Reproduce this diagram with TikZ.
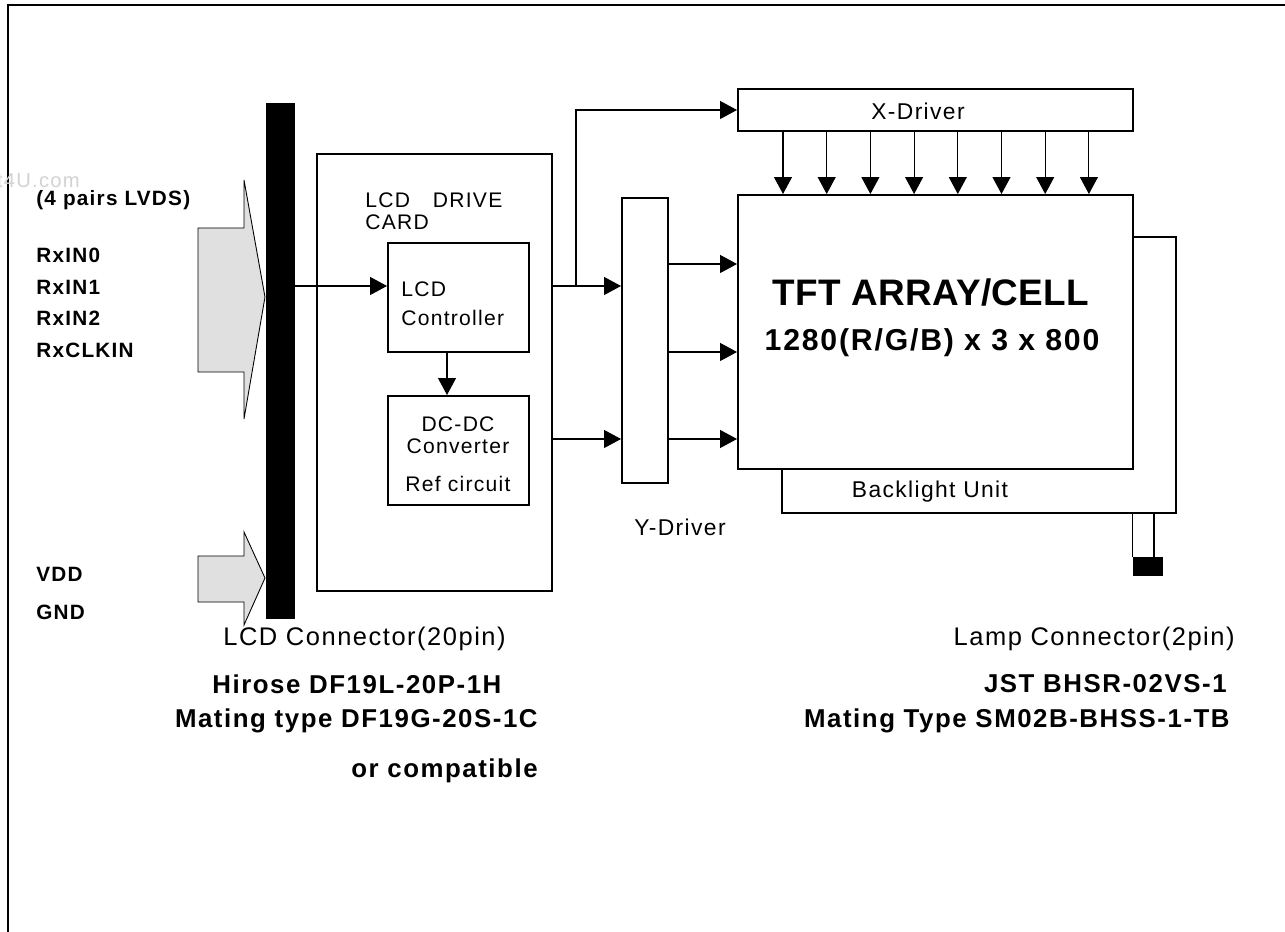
\documentclass[tikz,border=0pt]{standalone}
\usepackage{fontspec}
\setmainfont{Liberation Sans}[LetterSpace=6]
\newfontfamily\titlefont{Liberation Sans}[LetterSpace=1]
\usepackage{xcolor}
\usetikzlibrary{arrows.meta,positioning,calc,fit}
\definecolor{shaft}{RGB}{224,224,224}

\begin{document}
\begin{tikzpicture}[x=0.02cm,y=-0.02cm,
    box/.style={draw,line width=1.1pt,inner sep=0pt,fill=white},
    thinbox/.style={draw,line width=0.6pt,inner sep=0pt},
    solid/.style={fill=black,inner sep=0pt},
    wire/.style={line width=0.6pt},
    sig/.style={wire,-{Triangle[length=3.4mm,width=3.6mm]}},
    pin/.style={inner sep=0pt,anchor=west,font=\fontsize{11.8}{13}\selectfont\bfseries},
    txt/.style={inner sep=0pt,font=\fontsize{13}{15}\selectfont},
    small/.style={inner sep=0pt,align=left,font=\fontsize{12}{12.5}\selectfont},
    part/.style={inner sep=0pt,font=\fontsize{14.7}{16}\selectfont\bfseries},
    conn/.style={inner sep=0pt,font=\fontsize{14.5}{16}\selectfont}]
  \useasboundingbox (0,0) rectangle (1285,932);
  \draw[line width=1.6pt] (8,932) -- (8,5) -- (1285,5);
  \node[inner sep=0pt,anchor=east,text=gray!35,font=\fontsize{11.5}{13}\selectfont] (wm) at (80,181) {t4U.com};

  % input side
  \draw[line width=0.5pt,fill=shaft] (198,228) -- (244,228) -- (244,180) -- (265,297) -- (244,419) -- (244,372) -- (198,372) -- cycle;
  \draw[line width=0.5pt,fill=shaft] (198,556) -- (244,556) -- (244,532) -- (265,578) -- (244,625) -- (244,602) -- (198,602) -- cycle;
  \node[pin] (lvds) at (36,200) {(4 pairs LVDS)};
  \node[pin] (rx0) at (36,255) {RxIN0};
  \node[pin] (rx1) at (36,287) {RxIN1};
  \node[pin] (rx2) at (36,318) {RxIN2};
  \node[pin] (rxclk) at (36,350) {RxCLKIN};
  \node[pin] (vdd) at (36,574) {VDD};
  \node[pin] (gnd) at (36,612) {GND};
  \node[solid,fit={(266,103) (295,619)}] (bar) {};

  % drive card
  \node[box,fit={(317,154) (552,591)}] (card) {};
  \node[small,anchor=north west] (cardtxt) at (365,192) {LCD\hspace{13pt}DRIVE\\CARD};
  \node[box,fit={(388,243) (529,352)}] (ctl) {};
  \node[small,anchor=north west,font=\fontsize{12}{16.5}\selectfont] (ctltxt) at (401,281) {LCD\\Controller};
  \node[box,fit={(388,396) (529,505)}] (dcdc) {};
  \node[small,anchor=north,align=center,font=\fontsize{12}{13}\selectfont] (dctxt) at (458,416) {DC-DC\\Converter\\[8.5pt]Ref circuit};

  % drivers and panel
  \node[box,fit={(622,198) (668,483)}] (ydrv) {};
  \node[txt] (ytxt) at (680,527) {Y-Driver};
  \node[box,fit={(738,89) (1133,131)}] (xdrv) {};
  \node[txt] (xtxt) at (918,111) {X-Driver};
  \node[thinbox,fit={(782,237) (1176,513)}] (blu) {};
  \node[txt] (blutxt) at (930,492) {Backlight Unit};
  \node[box,fit={(738,195) (1133,469)}] (tft) {};
  \node[inner sep=0pt,font=\titlefont\bfseries\fontsize{21}{24}\selectfont] (tfttxt) at (931,293) {TFT ARRAY/CELL};
  \node[inner sep=0pt,font=\bfseries\fontsize{17.2}{20}\selectfont] (restxt) at (932,343) {1280(R/G/B) x 3 x 800};
  \node[solid,fit={(1133,557) (1163,576)}] (lamp) {};

  % signals
  \coordinate (in) at (0,286);
  \coordinate (br) at (576,286);
  \draw[sig] (bar.east |- in) -- (ctl.west |- in);
  \draw[sig] (447,0 |- ctl.south) -- (447,0 |- dcdc.north);
  \draw[sig] (card.east |- in) -- (ydrv.west |- in);
  \draw[sig] (br) |- (xdrv.west);
  \draw[sig] (card.east |- 0,439) -- (ydrv.west |- 0,439);
  \foreach \y in {264,352,439}
    \draw[sig] (ydrv.east |- 0,\y) -- (tft.west |- 0,\y);
  \foreach \i in {0,...,7}
    \draw[sig] (783+43.7*\i,0 |- xdrv.south) -- (783+43.7*\i,0 |- tft.north);
  \draw[wire] (lamp.north west |- blu.south) -- (lamp.north west);
  \draw[wire] (1154,0 |- blu.south) -- (1154,0 |- lamp.north);

  % connector notes
  \node[conn,anchor=west] (lcdconn) at (223,639) {LCD Connector(20pin)};
  \node[part,anchor=west] (hirose) at (212,684) {Hirose DF19L-20P-1H};
  \node[part,anchor=east] (mate) at (538,721) {Mating type DF19G-20S-1C};
  \node[part,anchor=east] (compat) at (538,771) {or compatible};
  \node[conn,anchor=east] (lampconn) at (1235,639) {Lamp Connector(2pin)};
  \node[part,anchor=east] (jst) at (1227,684) {JST BHSR-02VS-1};
  \node[part,anchor=east] (lampmate) at (1230,721) {Mating Type SM02B-BHSS-1-TB};
\end{tikzpicture}
\end{document}
